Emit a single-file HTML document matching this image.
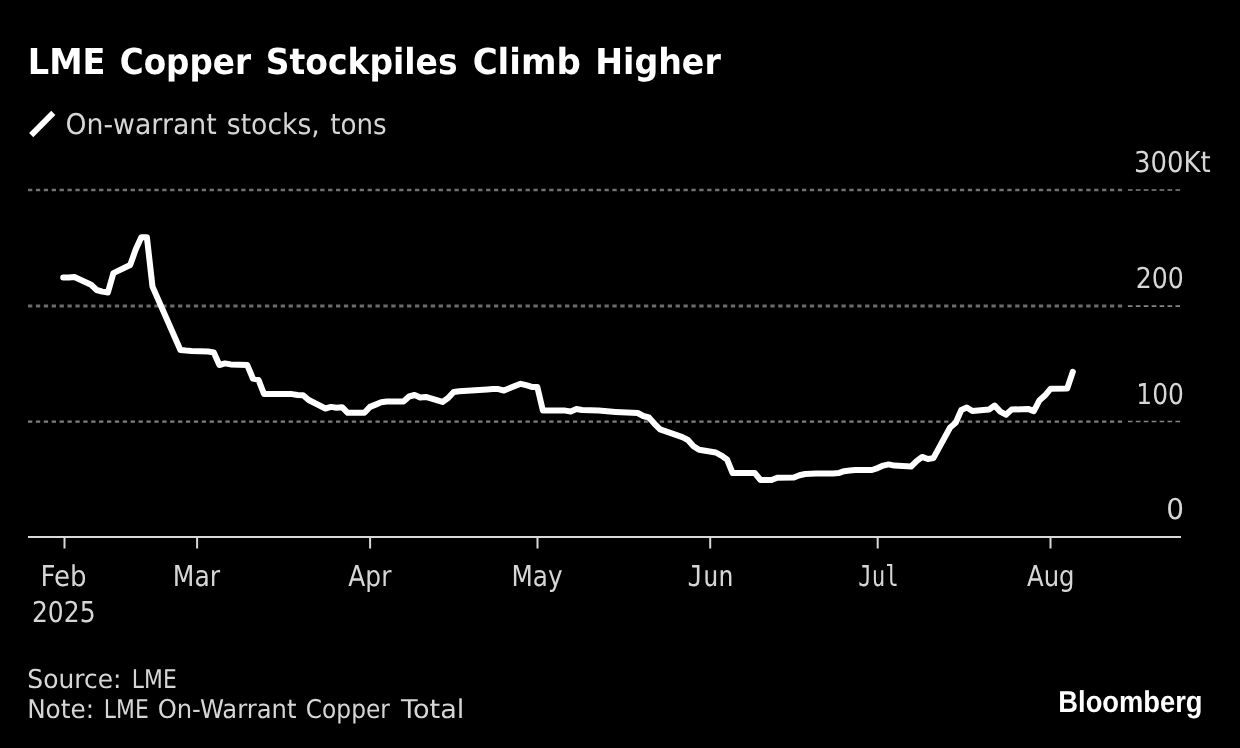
<!DOCTYPE html>
<html lang="en">
<head>
<meta charset="utf-8">
<title>LME Copper Stockpiles Climb Higher</title>
<style>
html,body{margin:0;padding:0;background:#000;}
body{width:1240px;height:748px;overflow:hidden;}
svg{display:block;}
text{font-family:"DejaVu Sans","Liberation Sans",sans-serif;fill:#d6d6d6;white-space:pre;text-rendering:geometricPrecision;}
.title{font-weight:bold;fill:#fff;}
.logo{font-family:"Liberation Sans","DejaVu Sans",sans-serif;font-weight:bold;fill:#fff;}
.m{font-family:"DejaVu Sans Mono","DejaVu Sans",monospace;}
.g{stroke-dasharray:4.3 3.5975;}
.ge{stroke:#858585;stroke-width:1.6;stroke-dasharray:4.6 3.33;}
.t{stroke:#d9d9d9;stroke-width:2;}
.ax{stroke:#d9d9d9;stroke-width:2;}
.series{fill:none;stroke:#fff;stroke-width:6;stroke-linejoin:round;stroke-linecap:round;}
.key{stroke:#fff;stroke-width:5.8;stroke-linecap:butt;}
</style>
</head>
<body>
<svg width="1240" height="748" viewBox="0 0 1240 748" role="img" aria-label="LME Copper Stockpiles Climb Higher">
<rect width="1240" height="748" fill="#000"/>
<g id="header">
<text class="title" font-size="35.8" y="74.0"><tspan x="27.77" textLength="77.69" lengthAdjust="spacingAndGlyphs">LME</tspan> <tspan x="119.70" textLength="131.30" lengthAdjust="spacingAndGlyphs">Copper</tspan> <tspan x="265.73" textLength="191.89" lengthAdjust="spacingAndGlyphs">Stockpiles</tspan> <tspan x="472.63" textLength="108.19" lengthAdjust="spacingAndGlyphs">Climb</tspan> <tspan x="595.18" textLength="125.62" lengthAdjust="spacingAndGlyphs">Higher</tspan></text>
<line class="key" x1="31.2" y1="135.1" x2="53.3" y2="112.85"/>
<text class="b" font-size="28.5" y="134.0"><tspan x="65.40" textLength="151.35" lengthAdjust="spacingAndGlyphs">On-warrant</tspan> <tspan x="226.82" textLength="92.93" lengthAdjust="spacingAndGlyphs">stocks,</tspan> <tspan x="330.25" textLength="56.50" lengthAdjust="spacingAndGlyphs">tons</tspan></text>
</g>
<g id="y-axis">
<line class="g" x1="28" x2="1124" y1="189.95" y2="189.95" stroke="#727272" stroke-width="2.6"/>
<line class="ge" x1="1127.9" x2="1180.4" y1="189.95" y2="189.95"/>
<line class="g" x1="28" x2="1124" y1="306.1" y2="306.1" stroke="#6b6b6b" stroke-width="3.0"/>
<line class="ge" x1="1127.9" x2="1180.4" y1="306.1" y2="306.1"/>
<line class="g" x1="28" x2="1124" y1="421.55" y2="421.55" stroke="#7e7e7e" stroke-width="2.3"/>
<line class="ge" x1="1127.9" x2="1180.4" y1="421.55" y2="421.55"/>
<text class="b" font-size="28.7" y="172.1"><tspan x="1133.88" textLength="76.72" lengthAdjust="spacingAndGlyphs">300Kt</tspan></text>
<text class="b" font-size="28.7" y="288.0"><tspan x="1135.70" textLength="48.15" lengthAdjust="spacingAndGlyphs">200</tspan></text>
<text class="b" font-size="28.7" y="403.8"><tspan x="1136.27" textLength="47.61" lengthAdjust="spacingAndGlyphs">100</tspan></text>
<text class="b" font-size="28.7" y="519.2"><tspan x="1166.23" textLength="17.77" lengthAdjust="spacingAndGlyphs">0</tspan></text>
</g>
<g id="plot">
<polyline class="series" points="63.2,277.6 68.8,277.6 74.4,277.0 91.1,284.8 96.7,290.0 102.3,291.6 107.9,292.5 113.4,273.1 130.2,265.0 135.7,249.6 141.3,237.3 146.9,237.3 152.5,286.6 180.4,350.0 185.9,350.6 191.5,351.0 208.3,351.5 213.8,352.5 219.4,365.0 225.0,363.4 230.6,364.4 247.3,365.1 252.9,378.5 258.5,379.8 264.0,394.0 269.6,394.0 286.3,394.0 291.9,394.1 297.5,395.0 303.1,395.2 308.7,400.0 325.4,408.5 331.0,406.9 336.5,407.8 342.1,407.2 347.7,412.8 364.4,412.8 370.0,406.9 375.6,404.6 381.2,402.2 386.7,401.5 403.5,401.5 409.1,396.5 414.6,395.0 420.2,397.5 425.8,396.9 442.5,401.9 448.1,398.1 453.7,391.9 459.3,391.2 487.1,389.4 492.7,389.0 498.3,389.1 503.9,390.5 520.6,383.8 526.2,385.2 531.8,386.9 537.3,386.9 542.9,410.6 565.2,410.6 570.8,411.5 576.4,409.0 582.0,410.0 598.7,410.5 604.3,411.0 609.9,411.5 615.4,411.9 621.0,412.2 637.7,413.0 643.3,416.0 648.9,417.5 654.5,423.8 660.1,429.4 682.4,437.2 687.9,440.0 693.5,446.2 699.1,449.8 715.8,452.5 721.4,455.6 727.0,459.4 732.6,473.1 738.1,473.1 754.9,473.1 760.5,480.0 766.0,480.1 771.6,480.0 777.2,477.8 793.9,477.5 799.5,475.2 805.1,474.0 810.7,473.8 816.2,473.6 833.0,473.4 838.5,473.1 844.1,471.2 849.7,470.6 855.3,470.0 872.0,470.0 877.6,468.1 883.2,465.6 888.7,464.4 894.3,465.6 911.1,466.5 916.6,461.2 922.2,456.9 927.8,459.0 933.4,458.1 950.1,427.5 955.7,422.8 961.3,410.0 966.8,407.5 972.4,411.0 989.1,409.4 994.7,405.6 1000.3,411.6 1005.9,414.7 1011.5,409.6 1028.2,408.9 1033.8,411.2 1039.3,400.6 1044.9,395.6 1050.5,388.8 1067.2,388.5 1072.8,371.9"/>
</g>
<g id="x-axis">
<line class="ax" x1="28" x2="1181" y1="537" y2="537"/>
<line class="t" x1="64.5" x2="64.5" y1="537" y2="548.5"/>
<line class="t" x1="197.1" x2="197.1" y1="537" y2="548.5"/>
<line class="t" x1="370.1" x2="370.1" y1="537" y2="548.5"/>
<line class="t" x1="537.5" x2="537.5" y1="537" y2="548.5"/>
<line class="t" x1="710.2" x2="710.2" y1="537" y2="548.5"/>
<line class="t" x1="877.7" x2="877.7" y1="537" y2="548.5"/>
<line class="t" x1="1050.5" x2="1050.5" y1="537" y2="548.5"/>
<text class="b" font-size="28.7" y="586.0"><tspan x="40.39" textLength="46.11" lengthAdjust="spacingAndGlyphs">Feb</tspan></text>
<text class="b" font-size="28.7" y="621.9"><tspan x="31.90" textLength="63.66" lengthAdjust="spacingAndGlyphs">2025</tspan></text>
<text class="b" font-size="28.7" y="586.0"><tspan x="172.87" textLength="47.34" lengthAdjust="spacingAndGlyphs">Mar</tspan></text>
<text class="b" font-size="28.7" y="586.0"><tspan x="348.35" textLength="43.06" lengthAdjust="spacingAndGlyphs">Apr</tspan></text>
<text class="b" font-size="28.7" y="586.0"><tspan x="511.50" textLength="51.17" lengthAdjust="spacingAndGlyphs">May</tspan></text>
<text class="b m" font-size="28.7" y="586.0"><tspan x="687.60" textLength="46.12" lengthAdjust="spacingAndGlyphs">Jun</tspan></text>
<text class="b m" font-size="28.7" y="586.0"><tspan x="858.36" textLength="40.50" lengthAdjust="spacingAndGlyphs">Jul</tspan></text>
<text class="b" font-size="28.7" y="586.0"><tspan x="1027.05" textLength="47.53" lengthAdjust="spacingAndGlyphs">Aug</tspan></text>
</g>
<g id="footer">
<text class="b" font-size="25.9" y="688.0"><tspan x="27.35" textLength="94.16" lengthAdjust="spacingAndGlyphs">Source:</tspan> <tspan x="131.83" textLength="44.87" lengthAdjust="spacingAndGlyphs">LME</tspan></text>
<text class="b" font-size="25.9" y="717.8"><tspan x="27.14" textLength="66.85" lengthAdjust="spacingAndGlyphs">Note:</tspan> <tspan x="103.83" textLength="44.87" lengthAdjust="spacingAndGlyphs">LME</tspan> <tspan x="157.65" textLength="138.84" lengthAdjust="spacingAndGlyphs">On-Warrant</tspan> <tspan x="305.87" textLength="83.94" lengthAdjust="spacingAndGlyphs">Copper</tspan> <tspan x="401.00" textLength="63.42" lengthAdjust="spacingAndGlyphs">Total</tspan></text>
<text class="logo" font-size="30.2" y="711.9"><tspan x="1058.33" textLength="144.24" lengthAdjust="spacingAndGlyphs">Bloomberg</tspan></text>
</g>
</svg>
</body>
</html>
